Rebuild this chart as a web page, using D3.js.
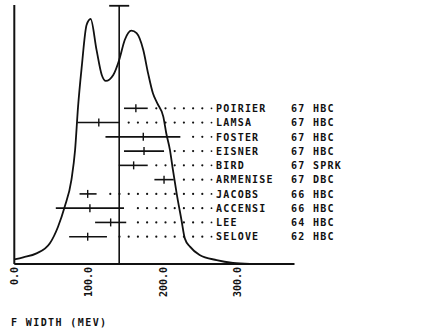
<!DOCTYPE html>
<html>
<head>
<meta charset="utf-8">
<script src="https://cdn.jsdelivr.net/npm/d3@7"></script>
<style>
  body { margin: 0; background: #fff; }
  svg { display: block; }
  text { font-family: "DejaVu Sans Mono", monospace; fill: #111; }
</style>
</head>
<body>
<div id="host"></div>
<script>
// ideogram curve (width in MeV, relative height)
const curveX = [0, 12, 30, 48, 59, 68, 77, 82, 86, 91, 97.5, 103, 111, 118, 123.5, 133.5, 141.5, 149, 158, 165, 174, 180.5, 187, 193, 201, 205, 210, 214, 219, 225.5, 230, 237, 250, 273, 295, 318];
const curveY = [1.8, 2.6, 4.1, 8.0, 14.4, 22.1, 32.4, 44, 60.7, 76.2, 92.3, 94.6, 82.6, 73, 70.7, 73, 78.8, 86.5, 90.1, 89.1, 82.6, 73.6, 65.9, 62, 56.9, 50.5, 44, 36.3, 27.3, 17, 9.9, 6.7, 3.5, 1.5, 0.4, 0];

// measurements
const names = ['POIRIER', 'LAMSA', 'FOSTER', 'EISNER', 'BIRD', 'ARMENISE', 'JACOBS', 'ACCENSI', 'LEE', 'SELOVE'];
const years = ['67', '67', '67', '67', '67', '67', '66', '66', '64', '62'];
const kinds = ['HBC', 'HBC', 'HBC', 'HBC', 'SPRK', 'DBC', 'HBC', 'HBC', 'HBC', 'HBC'];
const values = [164, 114, 174, 175, 161, 202, 99, 102, 130, 99];
const errLo = [16, 29, 51, 27, 20, 13, 11, 46, 21, 25];
const errHi = [16, 28, 50, 27, 19, 13, 12, 46, 21, 26];

// weighted average
const avgValue = 141.5;
const avgErr = 13.5;

const xTicks = [0, 100, 200, 300];
const xTitle = 'F WIDTH (MEV)';

const W = 446, H = 331;
const svg = d3.select('#host').append('svg').attr('width', W).attr('height', H);

const x = d3.scaleLinear().domain([0, 378]).range([14.3, 294.5]);
const y = d3.scaleLinear().domain([0, 100]).range([264, 5]);
const row = d3.scalePoint().domain(names).range([108.3, 236.7]);

// axes (plotter style: plain lines)
svg.append('line')
  .attr('x1', x(0)).attr('x2', x(0)).attr('y1', y(0)).attr('y2', y(100))
  .attr('stroke', '#111').attr('stroke-width', 2);
svg.append('line')
  .attr('x1', x(0)).attr('x2', x.range()[1]).attr('y1', y(0)).attr('y2', y(0))
  .attr('stroke', '#111').attr('stroke-width', 2);

const xAxis = svg.append('g').attr('transform', `translate(0,${y(0)})`)
  .call(d3.axisBottom(x).tickValues(xTicks).tickSize(0).tickFormat(d3.format('.1f')));
xAxis.select('.domain').remove();
xAxis.selectAll('text')
  .attr('transform', 'rotate(-90)')
  .attr('x', -3).attr('y', 0).attr('dy', '0.35em')
  .attr('text-anchor', 'end')
  .style('font-family', '"DejaVu Sans Mono", monospace')
  .style('font-size', '10px').style('font-weight', 'bold')
  .attr('fill', '#111');

svg.append('text')
  .attr('x', 11).attr('y', 326)
  .style('font-size', '10px').style('font-weight', 'bold').style('letter-spacing', '1.4px')
  .text(xTitle);

// ideogram
const pts = curveX.map((v, i) => [v, curveY[i]]);
svg.append('path')
  .datum(pts)
  .attr('fill', 'none').attr('stroke', '#111').attr('stroke-width', 1.8)
  .attr('d', d3.line().x(d => x(d[0])).y(d => y(d[1])).curve(d3.curveMonotoneX));

// average line with cap
svg.append('line')
  .attr('x1', x(avgValue)).attr('x2', x(avgValue)).attr('y1', y(0)).attr('y2', y(99.7))
  .attr('stroke', '#111').attr('stroke-width', 1.6);
svg.append('line')
  .attr('x1', x(avgValue - avgErr)).attr('x2', x(avgValue + avgErr)).attr('y1', y(99.7)).attr('y2', y(99.7))
  .attr('stroke', '#111').attr('stroke-width', 1.8);

// measurement rows
const labelX = 216, dotEnd = 211.5, dotStep = 9.2;
const rows = svg.append('g');
names.forEach((n, i) => {
  const cy = row(n);
  const g = rows.append('g');
  const lo = x(values[i] - errLo[i]), hi = x(values[i] + errHi[i]), c = x(values[i]);
  g.append('line').attr('x1', lo).attr('x2', hi).attr('y1', cy).attr('y2', cy)
    .attr('stroke', '#111').attr('stroke-width', 1.6);
  g.append('line').attr('x1', c).attr('x2', c).attr('y1', cy - 4).attr('y2', cy + 4)
    .attr('stroke', '#111').attr('stroke-width', 1.4);
  // dotted leader
  const dots = [];
  for (let k = 0; dotEnd - k * dotStep > hi + 5; k++) dots.push(dotEnd - k * dotStep);
  g.selectAll('circle').data(dots).enter().append('circle')
    .attr('cx', d => d).attr('cy', cy).attr('r', (d, k) => k === 0 ? 0.9 : 1.1).attr('fill', '#111');

  g.append('text').attr('x', labelX).attr('y', cy + 3.7)
    .style('font-size', '10px').style('font-weight', 'bold').style('letter-spacing', '1.2px')
    .text(n);
  g.append('text').attr('x', 291).attr('y', cy + 3.7)
    .style('font-size', '10px').style('font-weight', 'bold').style('letter-spacing', '1.2px')
    .text(years[i]);
  g.append('text').attr('x', 313).attr('y', cy + 3.7)
    .style('font-size', '10px').style('font-weight', 'bold').style('letter-spacing', '1.2px')
    .text(kinds[i]);
});
</script>
</body>
</html>
